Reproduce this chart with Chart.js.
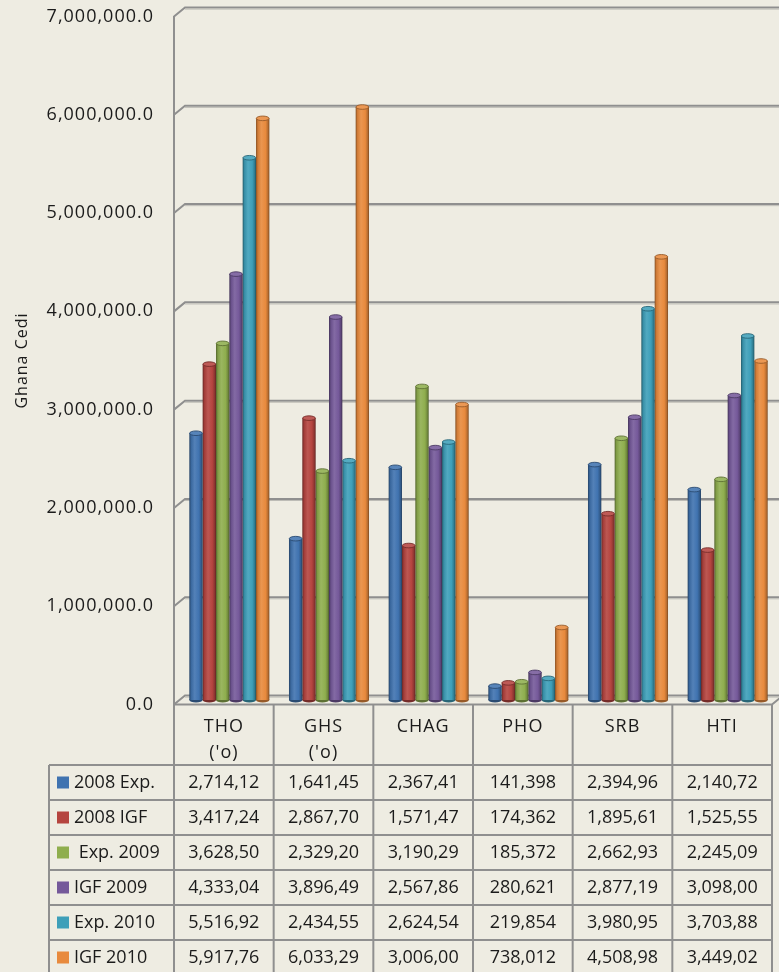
<!DOCTYPE html>
<html>
<head>
<meta charset="utf-8">
<title>Ghana Cedi</title>
<script src="https://cdn.jsdelivr.net/npm/chart.js@4.4.1/dist/chart.umd.min.js"></script>
<style>
  html, body { margin: 0; padding: 0; background: #eeece2; }
  canvas { display: block; }
</style>
</head>
<body>
<canvas id="chart" width="779" height="972"></canvas>
<script>
// Categorias e séries
const categories = [['THO', "('o)"], ['GHS', "('o)"], 'CHAG', 'PHO', 'SRB', 'HTI'];
const seriesNames = ['2008 Exp.', '2008 IGF', ' Exp. 2009', 'IGF 2009', 'Exp. 2010', 'IGF 2010'];

const exp2008 = [2714120, 1641450, 2367410, 141398, 2394960, 2140720];
const igf2008 = [3417240, 2867700, 1571470, 174362, 1895610, 1525550];
const exp2009 = [3628500, 2329200, 3190290, 185372, 2662930, 2245090];
const igf2009 = [4333040, 3896490, 2567860, 280621, 2877190, 3098000];
const exp2010 = [5516920, 2434550, 2624540, 219854, 3980950, 3703880];
const igf2010 = [5917760, 6033290, 3006000, 738012, 4508980, 3449020];
const seriesValues = [exp2008, igf2008, exp2009, igf2009, exp2010, igf2010];

const seriesColors = ['#4073b0', '#b5443f', '#8fae4e', '#75599a', '#3e9fb9', '#e88a3d'];

const yTicksMax = 7000000;
const yTickStep = 1000000;

// Profundidade do efeito 3D (parede do fundo deslocada para cima/direita)
const DEPTH_X = 11;
const DEPTH_Y = 9;
const HEADER_H = 60.5;
const ROW_H = 35;
const LEGEND_LEFT = 49;
const LINE = '#8f8f8f';
const TEXT = '#1b1b1b';

function mix(hex, f) {
    const n = parseInt(hex.slice(1), 16);
    const c = [(n >> 16) & 255, (n >> 8) & 255, n & 255]
        .map(v => f < 0 ? v * (1 + f) : v + (255 - v) * f);
    return 'rgb(' + c.map(Math.round).join(',') + ')';
}

// Texto da célula da tabela (a coluna corta em 8 caracteres)
function cellText(v) {
    return v.toLocaleString('en-US').slice(0, 8);
}

function cylinder(ctx, x0, x1, color) {
    const g = ctx.createLinearGradient(x0, 0, x1, 0);
    g.addColorStop(0, mix(color, -0.42));
    g.addColorStop(0.14, mix(color, -0.1));
    g.addColorStop(0.4, mix(color, 0.1));
    g.addColorStop(0.72, color);
    g.addColorStop(0.9, mix(color, -0.22));
    g.addColorStop(1, mix(color, -0.48));
    return g;
}

// Paredes, grade do fundo e cilindros
const wallPlugin = {
    id: 'wall',
    beforeDraw(chart) {
        chart.ctx.letterSpacing = '1px';
    },
    beforeDatasetsDraw(chart) {
        const { ctx, chartArea, scales: { y } } = chart;
        ctx.letterSpacing = '0px';
        ctx.save();
        y.ticks.forEach(t => {
            const p = y.getPixelForValue(t.value);
            ctx.beginPath();
            ctx.moveTo(chartArea.left, p);
            ctx.lineTo(chartArea.left + DEPTH_X, p - DEPTH_Y);
            ctx.lineTo(chart.width, p - DEPTH_Y);
            ctx.strokeStyle = LINE;
            ctx.lineWidth = 2;
            ctx.stroke();
            ctx.beginPath();
            ctx.moveTo(chartArea.left + DEPTH_X, p - DEPTH_Y + 1.6);
            ctx.lineTo(chart.width, p - DEPTH_Y + 1.6);
            ctx.strokeStyle = '#bdbcb6';
            ctx.lineWidth = 1;
            ctx.stroke();
        });
        // borda frontal do piso
        ctx.beginPath();
        ctx.moveTo(chartArea.left, chartArea.bottom);
        ctx.lineTo(chartArea.right, chartArea.bottom);
        ctx.lineTo(chartArea.right + DEPTH_X, chartArea.bottom - DEPTH_Y);
        ctx.strokeStyle = LINE;
        ctx.lineWidth = 2;
        ctx.stroke();
        ctx.restore();

        // barras ficam no meio da profundidade
        ctx.save();
        ctx.translate(DEPTH_X / 2, -DEPTH_Y / 2);
        chart.data.datasets.forEach((ds, di) => {
            const color = seriesColors[di];
            chart.getDatasetMeta(di).data.forEach(el => {
                const x0 = el.x - el.width / 2;
                el.options = Object.assign({}, el.options, {
                    backgroundColor: cylinder(ctx, x0, x0 + el.width, color)
                });
                ctx.beginPath();
                ctx.ellipse(el.x, el.base, el.width / 2, 2.5, 0, 0, Math.PI * 2);
                ctx.fillStyle = mix(color, -0.35);
                ctx.fill();
            });
        });
    },
    afterDatasetsDraw(chart) {
        const { ctx } = chart;
        chart.data.datasets.forEach((ds, di) => {
            const color = seriesColors[di];
            chart.getDatasetMeta(di).data.forEach(el => {
                ctx.beginPath();
                ctx.ellipse(el.x, el.y, el.width / 2 - 0.3, 2.3, 0, 0, Math.PI * 2);
                ctx.fillStyle = mix(color, 0.12);
                ctx.fill();
                ctx.strokeStyle = mix(color, -0.35);
                ctx.lineWidth = 0.9;
                ctx.stroke();
            });
        });
        ctx.restore();
    }
};

// Tabela de dados abaixo do gráfico
const tablePlugin = {
    id: 'dataTable',
    afterDraw(chart) {
        const { ctx, chartArea, scales: { x } } = chart;
        const cw = x.getPixelForValue(1) - x.getPixelForValue(0);
        const top = chartArea.bottom;
        const rowsTop = top + HEADER_H;
        const bottom = rowsTop + ROW_H * seriesNames.length;

        ctx.save();
        ctx.letterSpacing = '0px';
        ctx.strokeStyle = LINE;
        ctx.lineWidth = 2;
        ctx.beginPath();
        for (let i = 0; i <= categories.length; i++) {
            const xx = x.getPixelForValue(0) - cw / 2 + i * cw;
            ctx.moveTo(xx, top);
            ctx.lineTo(xx, bottom);
        }
        ctx.moveTo(LEGEND_LEFT, rowsTop);
        ctx.lineTo(LEGEND_LEFT, bottom);
        for (let r = 0; r <= seriesNames.length; r++) {
            const yy = rowsTop + r * ROW_H;
            ctx.moveTo(LEGEND_LEFT, yy);
            ctx.lineTo(chartArea.right, yy);
        }
        ctx.stroke();

        ctx.font = '18px "Open Sans"';
        ctx.textBaseline = 'middle';
        chart.data.datasets.forEach((ds, r) => {
            const cy = rowsTop + r * ROW_H + ROW_H / 2;
            ctx.fillStyle = seriesColors[r];
            ctx.fillRect(57, cy - 6, 12, 12);
            ctx.fillStyle = TEXT;
            ctx.textAlign = 'left';
            ctx.fillText(ds.label, 74, cy);
            ctx.textAlign = 'center';
            ds.data.forEach((v, i) => ctx.fillText(cellText(v), x.getPixelForValue(i), cy));
        });
        ctx.restore();
    }
};

new Chart(document.getElementById('chart'), {
    type: 'bar',
    data: {
        labels: categories,
        datasets: seriesNames.map((name, i) => ({
            label: name,
            data: seriesValues[i],
            backgroundColor: seriesColors[i],
            borderWidth: 0,
            categoryPercentage: 0.803,
            barPercentage: 1.0
        }))
    },
    options: {
        responsive: false,
        animation: false,
        events: [],
        layout: { padding: { top: 16.5, right: 7, left: 0, bottom: 0 } },
        plugins: {
            legend: { display: false },
            tooltip: { enabled: false }
        },
        scales: {
            x: {
                grid: { display: false, drawTicks: false },
                border: { display: false },
                ticks: {
                    color: TEXT,
                    padding: 10,
                    maxRotation: 0,
                    autoSkip: false,
                    font: { family: 'Open Sans', size: 18, lineHeight: 1.41 }
                },
                afterFit(scale) { scale.height = 267.5; }
            },
            y: {
                min: 0,
                max: yTicksMax,
                grid: { display: false, drawTicks: false },
                border: { display: true, color: LINE, width: 2 },
                ticks: {
                    stepSize: yTickStep,
                    color: TEXT,
                    padding: 20,
                    font: { family: 'Open Sans', size: 18 },
                    callback: v => v.toLocaleString('en-US', { minimumFractionDigits: 1, maximumFractionDigits: 1 })
                },
                title: {
                    display: true,
                    text: 'Ghana Cedi',
                    color: TEXT,
                    padding: { top: 12.4, bottom: 0 },
                    font: { family: 'Open Sans', size: 16 }
                },
                afterFit(scale) {
                    scale.width = 174;
                    scale.paddingTop = 0;
                    scale.paddingBottom = 0;
                }
            }
        }
    },
    plugins: [wallPlugin, tablePlugin]
});
</script>
</body>
</html>
